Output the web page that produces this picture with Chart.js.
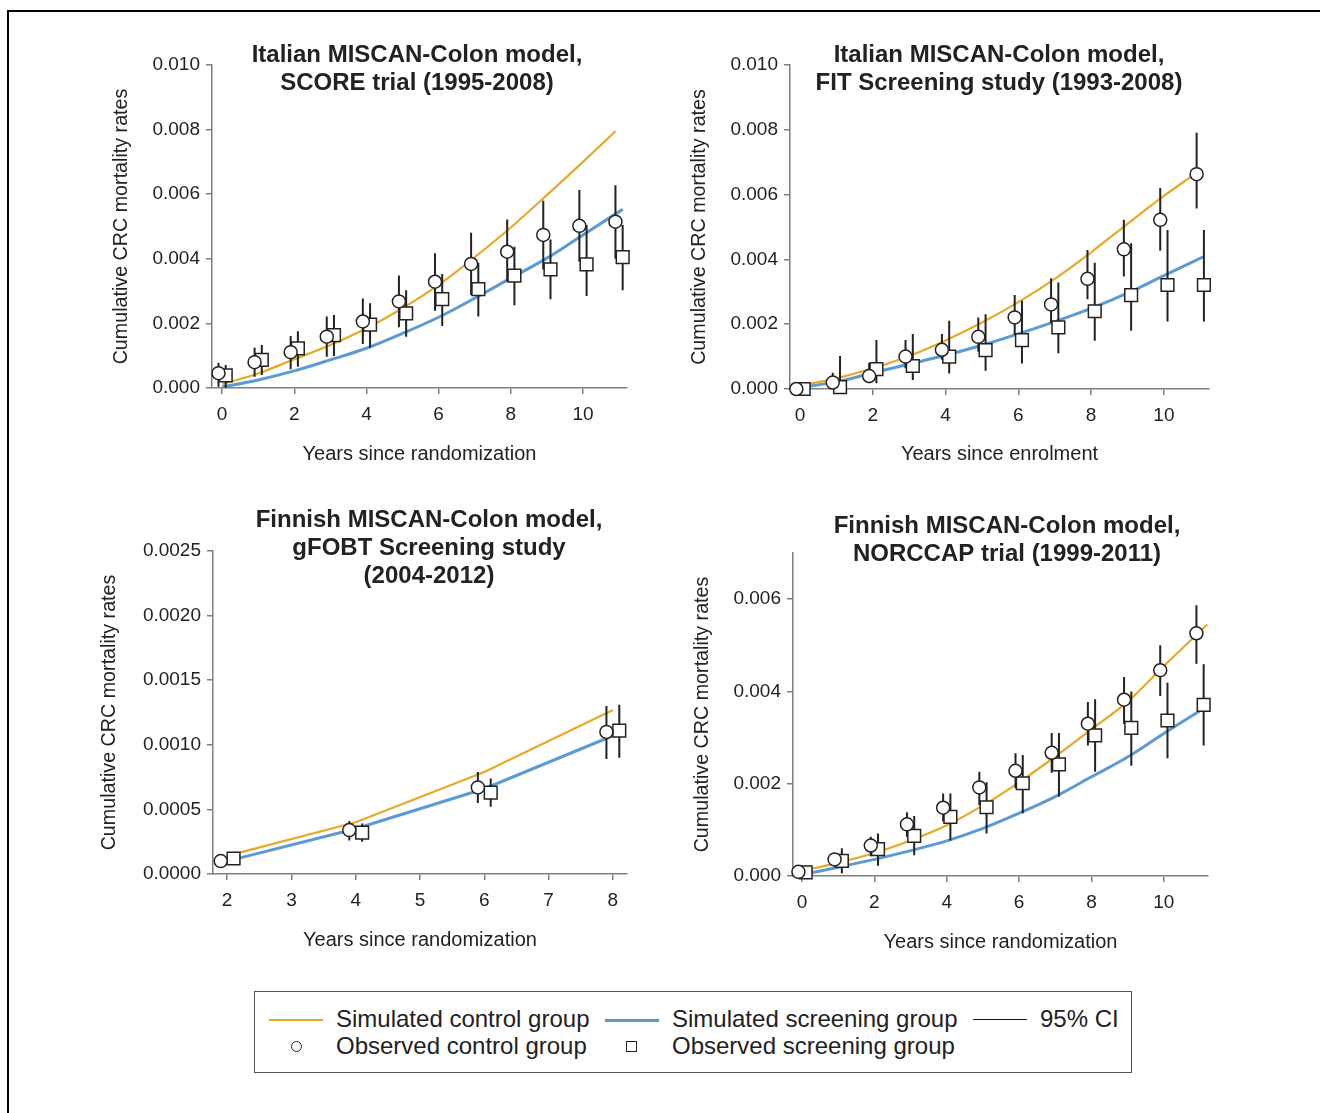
<!DOCTYPE html>
<html>
<head>
<meta charset="utf-8">
<script src="https://cdn.jsdelivr.net/npm/chart.js@4.4.1/dist/chart.umd.min.js"></script>
<style>
    body { margin: 0; background: #fff; }
    #page { position: relative; width: 1320px; height: 1113px; overflow: hidden; font-family: "Liberation Sans", Arial, sans-serif; color: #222; }
    #frame { position: absolute; left: 7px; top: 10px; width: 1320px; height: 1110px; border-top: 2px solid #000; border-left: 2px solid #000; }
    .panel { position: absolute; }
    #legend { position: absolute; left: 254px; top: 991px; width: 876px; height: 80px; border: 1px solid #555; }
    .lg-text { position: absolute; font-size: 24px; line-height: 24px; white-space: nowrap; }
    .lg-line { position: absolute; height: 2px; }
    .lg-circle { position: absolute; width: 9px; height: 9px; border: 1.5px solid #222; border-radius: 50%; }
    .lg-square { position: absolute; width: 9px; height: 9px; border: 1.5px solid #222; }
</style>
</head>
<body>
<div id="page">
    <div id="frame"></div>
    <canvas id="p1" class="panel" width="560" height="450" style="left:104px;top:20px"></canvas>
    <canvas id="p2" class="panel" width="570" height="450" style="left:682px;top:20px"></canvas>
    <canvas id="p3" class="panel" width="572" height="466" style="left:92px;top:490px"></canvas>
    <canvas id="p4" class="panel" width="570" height="468" style="left:685px;top:490px"></canvas>

    <div id="legend">
        <div class="lg-line" style="left:14px;top:27px;width:54px;background:#e9a825"></div>
        <div class="lg-text" style="left:81px;top:15px">Simulated control group</div>
        <div class="lg-line" style="left:350px;top:27px;width:54px;height:3px;background:#5b9bd3"></div>
        <div class="lg-text" style="left:417px;top:15px">Simulated screening group</div>
        <div class="lg-line" style="left:718px;top:27px;width:54px;height:1px;background:#111"></div>
        <div class="lg-text" style="left:785px;top:15px">95% CI</div>
        <div class="lg-circle" style="left:36px;top:49px"></div>
        <div class="lg-text" style="left:81px;top:42px">Observed control group</div>
        <div class="lg-square" style="left:371px;top:49px"></div>
        <div class="lg-text" style="left:417px;top:42px">Observed screening group</div>
    </div>
</div>

<script>
// ---- Panel 1: Italian model, SCORE trial ----
const p1XTicks = [0, 2, 4, 6, 8, 10];
const p1YTicks = [0, 0.002, 0.004, 0.006, 0.008, 0.010];
const p1SimYearsControl = [0, 1, 2, 3, 4, 5, 6, 7, 8, 9, 10, 10.9];
const p1SimControl = [0.00012, 0.00045, 0.00089, 0.00133, 0.00185, 0.00247, 0.00319, 0.00405, 0.00497, 0.00597, 0.00700, 0.00795];
const p1SimYearsScreen = [0, 1, 2, 3, 4, 5, 6, 7, 8, 9, 10, 11.1];
const p1SimScreen = [0.00003, 0.00025, 0.00053, 0.00087, 0.00123, 0.00169, 0.00219, 0.00278, 0.0034, 0.00402, 0.00474, 0.00553];
const p1ObsYears = [0, 1, 2, 3, 4, 5, 6, 7, 8, 9, 10, 11];
const p1ObsControl = [0.00046, 0.0008, 0.00111, 0.00159, 0.00206, 0.00268, 0.00329, 0.00384, 0.00422, 0.00474, 0.00502, 0.00515];
const p1ControlLow = [0.00004, 0.00035, 0.00058, 0.00097, 0.00136, 0.00188, 0.00239, 0.00288, 0.00329, 0.00367, 0.00391, 0.004];
const p1ControlHigh = [0.00078, 0.00125, 0.00161, 0.00221, 0.00277, 0.00348, 0.00417, 0.00481, 0.00522, 0.0058, 0.00613, 0.00628];
const p1ObsScreen = [0.00039, 0.00087, 0.00123, 0.00164, 0.00196, 0.00231, 0.00275, 0.00306, 0.00348, 0.00367, 0.00383, 0.00405];
const p1ScreenLow = [0, 0.0004, 0.00066, 0.00099, 0.00125, 0.00159, 0.00192, 0.00221, 0.00256, 0.00275, 0.00285, 0.00303];
const p1ScreenHigh = [0.00071, 0.00133, 0.00176, 0.00226, 0.00262, 0.00303, 0.00353, 0.00388, 0.00437, 0.0046, 0.00505, 0.00505];

// ---- Panel 2: Italian model, FIT screening study ----
const p2XTicks = [0, 2, 4, 6, 8, 10];
const p2YTicks = [0, 0.002, 0.004, 0.006, 0.008, 0.010];
const p2SimYearsControl = [0, 1, 2, 3, 4, 5, 6, 7, 8, 9, 10, 10.9];
const p2SimControl = [0.0001, 0.00033, 0.00064, 0.00102, 0.0015, 0.00205, 0.00268, 0.0034, 0.00422, 0.0051, 0.00596, 0.00667];
const p2SimYearsScreen = [0, 1, 2, 3, 4, 5, 6, 7, 8, 9, 10, 11.1];
const p2SimScreen = [0.00005, 0.00022, 0.0005, 0.00077, 0.00104, 0.00135, 0.0017, 0.00208, 0.00249, 0.00296, 0.0035, 0.00409];
const p2ObsYears = [0, 1, 2, 3, 4, 5, 6, 7, 8, 9, 10, 11];
const p2ObsControl = [0, 0.0002, 0.0004, 0.001, 0.00121, 0.00161, 0.00221, 0.00261, 0.0034, 0.00431, 0.00522, 0.00663];
const p2ControlLow = [0, 0.00007, 0.00018, 0.00064, 0.0009, 0.00115, 0.00167, 0.00203, 0.00277, 0.00347, 0.00427, 0.00557];
const p2ControlHigh = [0, 0.0005, 0.0008, 0.00151, 0.0017, 0.00221, 0.0029, 0.00342, 0.00429, 0.00522, 0.0062, 0.00791];
const p2ObsScreen = [0, 0.00006, 0.00061, 0.00071, 0.001, 0.0012, 0.00151, 0.0019, 0.0024, 0.0029, 0.00321, 0.00321];
const p2ScreenLow = [0, 0, 0.00018, 0.00028, 0.00048, 0.00056, 0.00079, 0.0011, 0.00149, 0.0018, 0.00208, 0.00208];
const p2ScreenHigh = [0, 0.00102, 0.00151, 0.0017, 0.00211, 0.00231, 0.00272, 0.00329, 0.0039, 0.0045, 0.00491, 0.00491];

// ---- Panel 3: Finnish model, gFOBT screening study ----
const p3XTicks = [2, 3, 4, 5, 6, 7, 8];
const p3YTicks = [0, 0.0005, 0.0010, 0.0015, 0.0020, 0.0025];
const p3SimYears = [2, 4, 6, 8];
const p3SimControl = [0.00014, 0.0004, 0.00079, 0.00127];
const p3SimScreen = [0.0001, 0.00035, 0.00066, 0.00107];
const p3ObsYears = [2, 4, 6, 8];
const p3ObsControl = [0.0001, 0.00034, 0.00067, 0.0011];
const p3ControlLow = [0.0001, 0.00026, 0.00055, 0.00089];
const p3ControlHigh = [0.0001, 0.00041, 0.00079, 0.0013];
const p3ObsScreen = [0.00012, 0.00032, 0.00063, 0.00111];
const p3ScreenLow = [0.00012, 0.00025, 0.00052, 0.0009];
const p3ScreenHigh = [0.00012, 0.00039, 0.00074, 0.00131];

// ---- Panel 4: Finnish model, NORCCAP trial ----
const p4XTicks = [0, 2, 4, 6, 8, 10];
const p4YTicks = [0, 0.002, 0.004, 0.006];
const p4SimYearsControl = [0, 1, 2, 3, 4, 5, 6, 7, 8, 9, 10, 11.2];
const p4SimControl = [0.00011, 0.00029, 0.0005, 0.00077, 0.0011, 0.00153, 0.00203, 0.00259, 0.00318, 0.00378, 0.00455, 0.00545];
const p4SimYearsScreen = [0, 1, 2, 3, 4, 5, 6, 7, 8, 9, 10, 11.1];
const p4SimScreen = [0.00003, 0.00019, 0.00036, 0.00055, 0.00076, 0.00103, 0.00136, 0.00172, 0.00215, 0.00258, 0.00309, 0.00363];
const p4ObsYears = [0, 1, 2, 3, 4, 5, 6, 7, 8, 9, 10, 11];
const p4ObsControl = [0.00009, 0.00036, 0.00066, 0.00112, 0.00148, 0.00192, 0.00228, 0.00267, 0.0033, 0.00382, 0.00446, 0.00526];
const p4ControlLow = [0.00009, 0.0002, 0.00043, 0.00085, 0.00118, 0.00154, 0.0019, 0.00224, 0.00283, 0.0033, 0.0039, 0.0046];
const p4ControlHigh = [0.00009, 0.0005, 0.00085, 0.00138, 0.00179, 0.00226, 0.00266, 0.0031, 0.00377, 0.00431, 0.005, 0.00587];
const p4ObsScreen = [0.00008, 0.00033, 0.00058, 0.00087, 0.00128, 0.00149, 0.00201, 0.00242, 0.00305, 0.00321, 0.00337, 0.00371];
const p4ScreenLow = [0, 0.00006, 0.00022, 0.00045, 0.00077, 0.00092, 0.00136, 0.00172, 0.00226, 0.00239, 0.00255, 0.00283];
const p4ScreenHigh = [0.00022, 0.0006, 0.00092, 0.0013, 0.00179, 0.00203, 0.00262, 0.0031, 0.00383, 0.004, 0.00419, 0.00459];

const ORANGE = '#e9a825';
const BLUE = '#5b9bd3';
const INK = '#222';
const AXIS = '#7f7f7f';
const FONT = '"Liberation Sans", Arial, sans-serif';

// Draws the multi-line bold panel title
const titlePlugin = {
    id: 'panelTitle',
    afterDraw(chart, args, opts) {
        const ctx = chart.ctx;
        ctx.save();
        ctx.font = 'bold 24px ' + FONT;
        ctx.fillStyle = INK;
        ctx.textAlign = 'center';
        ctx.textBaseline = 'middle';
        opts.lines.forEach(function(line, i) {
            ctx.fillText(line, opts.x, opts.y + i * 28);
        });
        ctx.restore();
    }
};

function points(xs, ys, shift) {
    return xs.map(function(x, i) { return { x: x + (shift || 0), y: ys[i] }; });
}

// vertical CI segments separated by gaps
function ciSegments(xs, lo, hi, shift) {
    const out = [];
    xs.forEach(function(x, i) {
        out.push({ x: x + shift, y: lo[i] });
        out.push({ x: x + shift, y: hi[i] });
        out.push({ x: x + shift, y: null });
    });
    return out;
}

function makePanel(p) {
    const smooth = p.smooth !== false;
    const datasets = [
        { data: points(p.obsYears, p.obsControl, -0.1), showLine: false, pointStyle: 'circle', pointRadius: 6.5,
          pointBackgroundColor: '#fff', pointBorderColor: INK, pointBorderWidth: 1.5, clip: false },
        { data: points(p.obsYears, p.obsScreen, 0.1), showLine: false, pointStyle: 'rect', pointRadius: 9,
          pointBackgroundColor: '#fff', pointBorderColor: INK, pointBorderWidth: 1.5, clip: false },
        { data: ciSegments(p.obsYears, p.controlLow, p.controlHigh, -0.1), borderColor: INK, borderWidth: 2,
          pointRadius: 0, spanGaps: false, clip: false },
        { data: ciSegments(p.obsYears, p.screenLow, p.screenHigh, 0.1), borderColor: INK, borderWidth: 2,
          pointRadius: 0, spanGaps: false, clip: false },
        { data: points(p.simYearsControl, p.simControl), borderColor: ORANGE, borderWidth: 2.2, pointRadius: 0,
          cubicInterpolationMode: smooth ? 'monotone' : 'default', tension: 0, clip: false },
        { data: points(p.simYearsScreen, p.simScreen), borderColor: BLUE, borderWidth: 3, pointRadius: 0,
          cubicInterpolationMode: smooth ? 'monotone' : 'default', tension: 0, clip: false }
    ];

    new Chart(document.getElementById(p.id), {
        type: 'line',
        data: { datasets: datasets },
        options: {
            responsive: false,
            animation: false,
            devicePixelRatio: 1,
            layout: { padding: { left: 0, top: p.padTop, right: p.padRight, bottom: 0 } },
            plugins: {
                legend: { display: false },
                tooltip: { enabled: false },
                panelTitle: { lines: p.title, x: p.titleX, y: p.titleY }
            },
            scales: {
                x: {
                    type: 'linear',
                    min: p.xMin,
                    max: p.xMax,
                    afterBuildTicks: function(s) { s.ticks = p.xTicks.map(function(v) { return { value: v }; }); },
                    afterFit: function(s) { s.height = p.xH; },
                    ticks: { font: { family: FONT, size: 19 }, color: INK, padding: 9, autoSkip: false, maxRotation: 0,
                             callback: function(v) { return String(v); } },
                    grid: { drawOnChartArea: false, tickLength: 6, color: AXIS, lineWidth: 1.5 },
                    border: { color: AXIS, width: 1.5 },
                    title: { display: true, text: p.xTitle, font: { family: FONT, size: 20 }, color: INK,
                             padding: { top: 0, bottom: 4 } }
                },
                y: {
                    type: 'linear',
                    min: 0,
                    max: p.yMax,
                    afterBuildTicks: function(s) { s.ticks = p.yTicks.map(function(v) { return { value: v }; }); },
                    afterFit: function(s) { s.width = p.yW; },
                    ticks: { font: { family: FONT, size: 19 }, color: INK, padding: 6,
                             callback: function(v) { return v.toFixed(p.dec); } },
                    grid: { drawOnChartArea: false, tickLength: 6, color: AXIS, lineWidth: 1.5 },
                    border: { color: AXIS, width: 1.5 },
                    title: { display: true, text: 'Cumulative CRC mortality rates', font: { family: FONT, size: 19.7 },
                             color: INK, padding: { top: 6, bottom: 0 } }
                }
            }
        },
        plugins: [titlePlugin]
    });
}

makePanel({
    id: 'p1', padTop: 45, padRight: 37, yW: 108, xH: 82, xMin: -0.28, xMax: 11.22, yMax: 0.010, dec: 3,
    xTicks: p1XTicks, yTicks: p1YTicks, xTitle: 'Years since randomization',
    title: ['Italian MISCAN-Colon model,', 'SCORE trial (1995-2008)'], titleX: 313, titleY: 35,
    simYearsControl: p1SimYearsControl, simControl: p1SimControl,
    simYearsScreen: p1SimYearsScreen, simScreen: p1SimScreen,
    obsYears: p1ObsYears, obsControl: p1ObsControl, controlLow: p1ControlLow, controlHigh: p1ControlHigh,
    obsScreen: p1ObsScreen, screenLow: p1ScreenLow, screenHigh: p1ScreenHigh
});

makePanel({
    id: 'p2', padTop: 45, padRight: 43, yW: 108, xH: 81, xMin: -0.275, xMax: 11.24, yMax: 0.010, dec: 3,
    xTicks: p2XTicks, yTicks: p2YTicks, xTitle: 'Years since enrolment',
    title: ['Italian MISCAN-Colon model,', 'FIT Screening study (1993-2008)'], titleX: 317, titleY: 35,
    simYearsControl: p2SimYearsControl, simControl: p2SimControl,
    simYearsScreen: p2SimYearsScreen, simScreen: p2SimScreen,
    obsYears: p2ObsYears, obsControl: p2ObsControl, controlLow: p2ControlLow, controlHigh: p2ControlHigh,
    obsScreen: p2ObsScreen, screenLow: p2ScreenLow, screenHigh: p2ScreenHigh
});

makePanel({
    id: 'p3', padTop: 61, padRight: 37, yW: 121, xH: 82, xMin: 1.78, xMax: 8.22, yMax: 0.0025, dec: 4,
    xTicks: p3XTicks, yTicks: p3YTicks, xTitle: 'Years since randomization', smooth: false,
    title: ['Finnish MISCAN-Colon model,', 'gFOBT Screening study', '(2004-2012)'], titleX: 337, titleY: 30,
    simYearsControl: p3SimYears, simControl: p3SimControl,
    simYearsScreen: p3SimYears, simScreen: p3SimScreen,
    obsYears: p3ObsYears, obsControl: p3ObsControl, controlLow: p3ControlLow, controlHigh: p3ControlHigh,
    obsScreen: p3ObsScreen, screenLow: p3ScreenLow, screenHigh: p3ScreenHigh
});

makePanel({
    id: 'p4', padTop: 63, padRight: 47, yW: 108, xH: 82, xMin: -0.25, xMax: 11.22, yMax: 0.007, dec: 3,
    xTicks: p4XTicks, yTicks: p4YTicks, xTitle: 'Years since randomization',
    title: ['Finnish MISCAN-Colon model,', 'NORCCAP trial (1999-2011)'], titleX: 322, titleY: 36,
    simYearsControl: p4SimYearsControl, simControl: p4SimControl,
    simYearsScreen: p4SimYearsScreen, simScreen: p4SimScreen,
    obsYears: p4ObsYears, obsControl: p4ObsControl, controlLow: p4ControlLow, controlHigh: p4ControlHigh,
    obsScreen: p4ObsScreen, screenLow: p4ScreenLow, screenHigh: p4ScreenHigh
});
</script>
</body>
</html>
